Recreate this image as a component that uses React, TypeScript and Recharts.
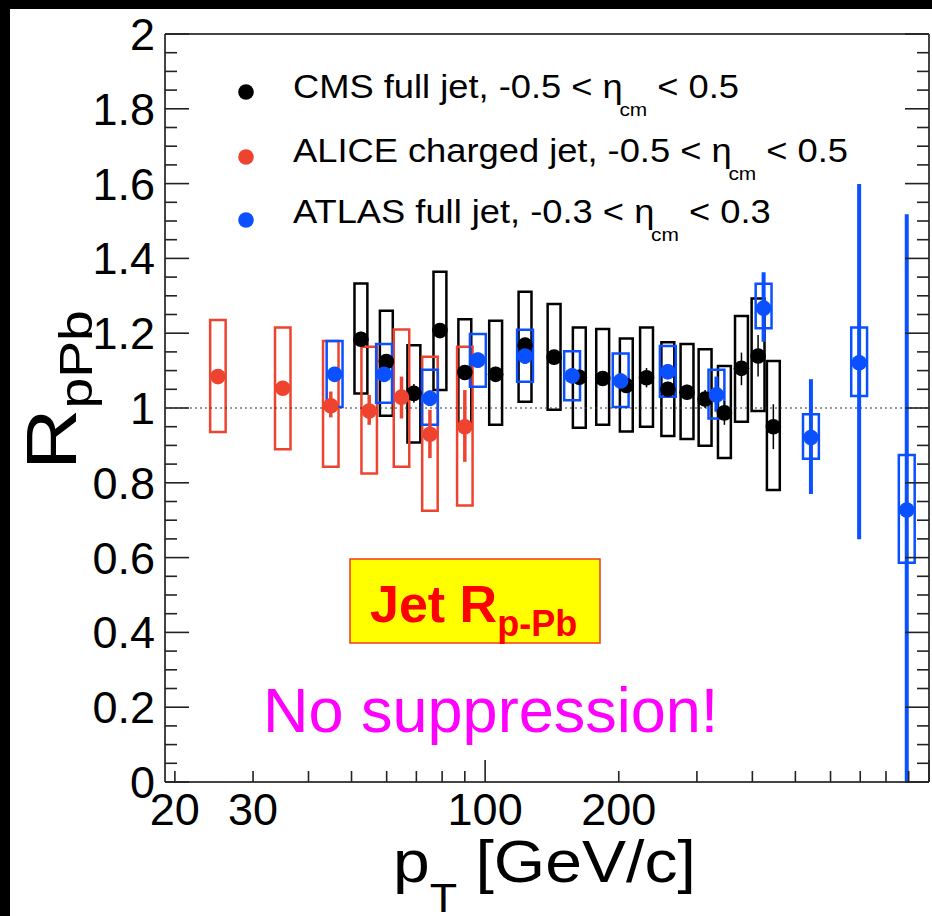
import React from 'react';
import { ComposedChart, Scatter, ErrorBar, XAxis, YAxis, ReferenceArea, ReferenceLine, Legend } from 'recharts';

const W = 932;
const H = 916;
const FONT = '"Liberation Sans", Arial, Helvetica, sans-serif';

const CMS_COLOR = '#000000';
const ALICE_COLOR = '#ee442f';
const ATLAS_COLOR = '#0a50ff';

// ALICE charged jet, -0.5 < eta_cm < 0.5
const alicePt = [25.0, 35.0, 44.9, 54.8, 64.8, 75.1, 90.0];
const aliceVal = [1.084, 1.053, 1.006, 0.992, 1.029, 0.93, 0.95];
const aliceStatLo = [1.065, 1.035, 0.975, 0.955, 0.972, 0.866, 0.856];
const aliceStatHi = [1.1, 1.07, 1.044, 1.035, 1.084, 0.995, 1.048];
const aliceSysLo = [0.936, 0.89, 0.843, 0.825, 0.843, 0.725, 0.739];
const aliceSysHi = [1.235, 1.215, 1.179, 1.164, 1.21, 1.137, 1.164];

// CMS full jet, -0.5 < eta_cm < 0.5
const cmsPt = [52.5, 59.9, 69.1, 79.1, 90.0, 105.6, 123, 143, 163, 184, 208, 231, 258, 285, 313, 346, 378, 412, 446];
const cmsVal = [1.184, 1.124, 1.039, 1.207, 1.095, 1.09, 1.168, 1.136, 1.082, 1.079, 1.06, 1.081, 1.05, 1.042, 1.024, 0.987, 1.106, 1.139, 0.95];
const cmsStatLo = [1.164, 1.104, 1.014, 1.187, 1.075, 1.07, 1.148, 1.116, 1.062, 1.059, 1.04, 1.055, 1.03, 1.022, 1.0, 0.955, 1.061, 1.084, 0.89];
const cmsStatHi = [1.204, 1.144, 1.064, 1.227, 1.115, 1.11, 1.188, 1.156, 1.102, 1.099, 1.08, 1.107, 1.07, 1.062, 1.048, 1.019, 1.148, 1.195, 1.01];
const cmsSysLo = [1.039, 0.979, 0.908, 1.048, 0.96, 0.955, 1.017, 0.995, 0.947, 0.955, 0.937, 0.95, 0.925, 0.917, 0.899, 0.866, 0.963, 0.992, 0.781];
const cmsSysHi = [1.333, 1.26, 1.168, 1.364, 1.237, 1.233, 1.311, 1.278, 1.215, 1.211, 1.186, 1.215, 1.176, 1.171, 1.157, 1.112, 1.246, 1.293, 1.126];

// ATLAS full jet, -0.3 < eta_cm < 0.3
const atlasPt = [45.8, 59.2, 75.1, 96.3, 123, 157, 202, 258, 332, 424, 542, 696, 891];
const atlasVal = [1.09, 1.09, 1.026, 1.128, 1.139, 1.086, 1.072, 1.097, 1.035, 1.267, 0.921, 1.121, 0.727];
const atlasStatLo = [1.07, 1.07, 1.005, 1.108, 1.118, 1.066, 1.052, 1.077, 0.99, 1.177, 0.77, 0.649, 0.0];
const atlasStatHi = [1.11, 1.11, 1.047, 1.148, 1.16, 1.106, 1.092, 1.117, 1.084, 1.363, 1.077, 1.599, 1.518];
const atlasSysLo = [1.003, 1.014, 0.955, 1.057, 1.07, 1.021, 1.003, 1.03, 0.972, 1.213, 0.864, 1.032, 0.586];
const atlasSysHi = [1.179, 1.171, 1.102, 1.198, 1.209, 1.152, 1.146, 1.166, 1.102, 1.332, 0.983, 1.215, 0.874];

const xTicks = [20, 30, 40, 50, 60, 70, 80, 90, 100, 200, 300, 400, 500, 600, 700, 800, 900, 1000];
const xTickLabels = [20, 30, 100, 200];
const xDecades = [100, 1000];
const yTickLabels = ['0', '0.2', '0.4', '0.6', '0.8', '1', '1.2', '1.4', '1.6', '1.8', '2'];
const yTicks: number[] = [];
for (let i = 0; i <= 40; i++) yTicks.push(Math.round(i * 5) / 100);

const legendOrder = ['CMS', 'ALICE', 'ATLAS'];
const legendLabels: Record<string, [string, string]> = {
  CMS: ['CMS full jet, -0.5 < ', ' < 0.5'],
  ALICE: ['ALICE charged jet, -0.5 < ', ' < 0.5'],
  ATLAS: ['ATLAS full jet, -0.3 < ', ' < 0.3'],
};

const build = (pt: number[], val: number[], lo: number[], hi: number[]) =>
  pt.map((p, i) => ({ pt: p, val: val[i], err: [val[i] - lo[i], hi[i] - val[i]] }));

const aliceData = build(alicePt, aliceVal, aliceStatLo, aliceStatHi);
const cmsData = build(cmsPt, cmsVal, cmsStatLo, cmsStatHi);
const atlasData = build(atlasPt, atlasVal, atlasStatLo, atlasStatHi);

const TICK_COLOR = '#222';
const FRAME = { stroke: '#444', strokeWidth: 2 };

const isMajorY = (v: number) => Math.abs(v * 5 - Math.round(v * 5)) < 1e-6;

const LeftTick = (p: any) => {
  const v = p.payload.value;
  const major = isMajorY(v);
  return (
    <g>
      <line x1={p.x} x2={p.x + (major ? 24 : 12)} y1={p.y} y2={p.y} stroke={TICK_COLOR} strokeWidth={1.6} />
      {major && (
        <text x={p.x - 10} y={p.y + 16} textAnchor="end" fontSize={45} fontFamily={FONT} fill="#000">
          {yTickLabels[Math.round(v * 5)]}
        </text>
      )}
    </g>
  );
};

const RightTick = (p: any) => {
  const v = p.payload.value;
  const len = isMajorY(v) ? 24 : 12;
  return <line x1={p.x} x2={p.x - len} y1={p.y} y2={p.y} stroke={TICK_COLOR} strokeWidth={1.6} />;
};

const BottomTick = (p: any) => {
  const v = p.payload.value;
  const len = xDecades.includes(v) ? 22 : 11;
  return (
    <g>
      <line x1={p.x} x2={p.x} y1={p.y} y2={p.y - len} stroke={TICK_COLOR} strokeWidth={1.6} />
      {xTickLabels.includes(v) && (
        <text x={p.x} y={p.y + 43} textAnchor="middle" fontSize={45} fontFamily={FONT} fill="#000">
          {v}
        </text>
      )}
    </g>
  );
};

const TopTick = (p: any) => {
  const v = p.payload.value;
  const len = xDecades.includes(v) ? 22 : 11;
  return <line x1={p.x} x2={p.x} y1={p.y} y2={p.y + len} stroke={TICK_COLOR} strokeWidth={1.6} />;
};

const dot = (color: string) => (props: any) => <circle cx={props.cx} cy={props.cy} r={7.8} fill={color} />;

const LegendRows = [
  { marker: 92, base: 98 },
  { marker: 157, base: 162 },
  { marker: 220, base: 223 },
];

const LegendContent = (props: any) => {
  const items = props.payload || [];
  return (
    <svg width={W} height={H} style={{ position: 'absolute', left: 0, top: 0, overflow: 'visible', pointerEvents: 'none' }}>
      {items.map((e: any) => {
        const row = LegendRows[legendOrder.indexOf(e.value)];
        const [head, tail] = legendLabels[e.value];
        return (
          <g key={e.value}>
            <circle cx={246} cy={row.marker} r={7.8} fill={e.color} />
            <g transform={`translate(293,${row.base}) scale(1.1,1)`}>
              <text x={0} y={0} fontSize={33} fontFamily={FONT} fill="#000">
                {head}η
                <tspan dx={-3} dy={18} fontSize={19}>cm</tspan>
                <tspan dy={-18} fontSize={33}>{tail}</tspan>
              </text>
            </g>
          </g>
        );
      })}
    </svg>
  );
};

const boxes = (pt: number[], lo: number[], hi: number[], half: number, color: string, key: string) =>
  pt.map((p, i) => (
    <ReferenceArea
      key={`${key}${i}`}
      x1={p / half}
      x2={p * half}
      y1={lo[i]}
      y2={hi[i]}
      fill="none"
      fillOpacity={0}
      stroke={color}
      strokeWidth={2.5}
      ifOverflow="visible"
    />
  ));

export default function App() {
  return (
    <div style={{ position: 'fixed', left: 0, top: 0, width: W, height: H, background: '#fff', overflow: 'hidden', fontFamily: FONT }}>
      <ComposedChart
        width={W}
        height={H}
        margin={{ top: 33, right: 2, bottom: 133, left: 164 }}
        style={{ position: 'absolute', left: 0, top: 0 }}
      >
        <XAxis
          xAxisId={0}
          dataKey="pt"
          type="number"
          scale="log"
          domain={[19, 1000]}
          allowDataOverflow
          ticks={xTicks}
          interval={0}
          height={1}
          tickSize={0}
          tickMargin={0}
          tickLine={false}
          tick={BottomTick}
          axisLine={FRAME}
        />
        <XAxis
          xAxisId="top"
          orientation="top"
          type="number"
          scale="log"
          domain={[19, 1000]}
          allowDataOverflow
          ticks={xTicks}
          interval={0}
          height={1}
          tickSize={0}
          tickMargin={0}
          tickLine={false}
          tick={TopTick}
          axisLine={FRAME}
        />
        <YAxis
          yAxisId={0}
          dataKey="val"
          type="number"
          domain={[0, 2]}
          allowDataOverflow
          ticks={yTicks}
          interval={0}
          width={1}
          tickSize={0}
          tickMargin={0}
          tickLine={false}
          tick={LeftTick}
          axisLine={FRAME}
        />
        <YAxis
          yAxisId="right"
          orientation="right"
          type="number"
          domain={[0, 2]}
          allowDataOverflow
          ticks={yTicks}
          interval={0}
          width={1}
          tickSize={0}
          tickMargin={0}
          tickLine={false}
          tick={RightTick}
          axisLine={FRAME}
        />
        <ReferenceLine y={1} stroke="#333" strokeWidth={1.2} strokeDasharray="2 3" ifOverflow="visible" />
        {boxes(cmsPt, cmsSysLo, cmsSysHi, 1.034, CMS_COLOR, 'cms')}
        {boxes(alicePt, aliceSysLo, aliceSysHi, 1.041, ALICE_COLOR, 'alice')}
        {boxes(atlasPt, atlasSysLo, atlasSysHi, 1.042, ATLAS_COLOR, 'atlas')}
        <Scatter name="CMS" data={cmsData} dataKey="val" fill={CMS_COLOR} shape={dot(CMS_COLOR)} isAnimationActive={false}>
          <ErrorBar dataKey="err" direction="y" width={0} stroke={CMS_COLOR} strokeWidth={1.5} />
        </Scatter>
        <Scatter name="ALICE" data={aliceData} dataKey="val" fill={ALICE_COLOR} shape={dot(ALICE_COLOR)} isAnimationActive={false}>
          <ErrorBar dataKey="err" direction="y" width={0} stroke={ALICE_COLOR} strokeWidth={3.5} />
        </Scatter>
        <Scatter name="ATLAS" data={atlasData} dataKey="val" fill={ATLAS_COLOR} shape={dot(ATLAS_COLOR)} isAnimationActive={false}>
          <ErrorBar dataKey="err" direction="y" width={0} stroke={ATLAS_COLOR} strokeWidth={4} />
        </Scatter>
        <Legend
          content={LegendContent}
          wrapperStyle={{ position: 'absolute', left: 0, top: 0, width: 0, height: 0, overflow: 'visible' }}
        />
      </ComposedChart>

      <svg width={W} height={H} style={{ position: 'absolute', left: 0, top: 0, pointerEvents: 'none' }}>
        <rect x={0} y={0} width={W} height={9} fill="#000" />
        <rect x={0} y={0} width={10} height={H} fill="#000" />
        <g transform="translate(76,470) rotate(-90) scale(1.2,1)">
          <text x={0} y={0} fontSize={71} fontFamily={FONT} fill="#000">
            R<tspan dy={16} fontSize={46}>pPb</tspan>
          </text>
        </g>
        <g transform="translate(393,882) scale(1.12,1)">
          <text x={0} y={0} fontSize={59} fontFamily={FONT} fill="#000">
            p<tspan dy={30} fontSize={40}>T</tspan>
            <tspan dy={-30} fontSize={59}> [GeV/c]</tspan>
          </text>
        </g>
        <rect x={350} y={559} width={250} height={84} fill="#ffff00" stroke="#f23a1e" strokeWidth={1.5} />
        <text x={370} y={622} fontSize={52} fontWeight="bold" fontFamily={FONT} fill="#ff0000">
          Jet R<tspan dy={14} fontSize={36}>p-Pb</tspan>
        </text>
        <text x={263} y={732} fontSize={63} fontFamily={FONT} fill="#ff00ff">
          No suppression!
        </text>
      </svg>
    </div>
  );
}
